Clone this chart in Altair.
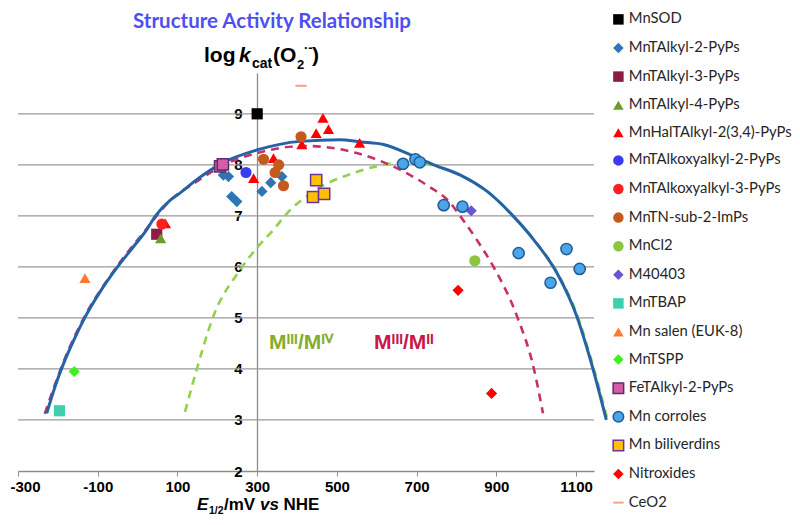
import altair as alt
import pandas as pd

# ---------------- data ----------------
series = ["MnSOD", "MnTAlkyl-2-PyPs", "MnTAlkyl-3-PyPs", "MnTAlkyl-4-PyPs",
          "MnHalTAlkyl-2(3,4)-PyPs", "MnTAlkoxyalkyl-2-PyPs", "MnTAlkoxyalkyl-3-PyPs",
          "MnTN-sub-2-ImPs", "MnCl2", "M40403", "MnTBAP", "Mn salen (EUK-8)", "MnTSPP",
          "FeTAlkyl-2-PyPs", "Mn corroles", "Mn biliverdins", "Nitroxides", "CeO2"]

mnsod_x, mnsod_y = [300], [9.0]
alkyl2_x = [215, 228, 236, 249, 312, 334, 362]
alkyl2_y = [7.80, 7.77, 7.38, 7.28, 7.48, 7.65, 7.77]
alkyl3_x, alkyl3_y = [48], [6.64]
alkyl4_x, alkyl4_y = [58], [6.56]
hal_x = [70, 291, 341, 412, 448, 465, 479, 557]
hal_y = [6.85, 7.74, 8.13, 8.40, 8.62, 8.92, 8.70, 8.43]
alkoxy2_x, alkoxy2_y = [272], [7.85]
alkoxy3_x, alkoxy3_y = [61], [6.84]
imps_x = [316, 345, 354, 366, 410]
imps_y = [8.11, 7.85, 8.00, 7.59, 8.55]
mncl2_x, mncl2_y = [846], [6.12]
m40403_x, m40403_y = [837], [7.10]
tbap_x, tbap_y = [-196], [3.18]
salen_x, salen_y = [-132], [5.78]
tspp_x, tspp_y = [-159], [3.95]
fe_x, fe_y = [207, 214], [7.97, 8.01]
corrole_x = [666, 697, 708, 768, 815, 956, 1036, 1076, 1109]
corrole_y = [8.02, 8.11, 8.05, 7.21, 7.18, 6.27, 5.69, 6.35, 5.96]
bili_x = [440, 448, 468]
bili_y = [7.37, 7.70, 7.43]
nitrox_x = [804, 888]
nitrox_y = [5.54, 3.52]
ceo2_x, ceo2_y = [410], [9.55]

# fitted curves
fit_all_x = [-228, -205, -178, -155, -132, -95, -56, -15, 23, 44, 82, 107, 150, 211,
             299, 408, 508, 559, 617, 684, 743, 810, 877, 943, 994, 1052, 1102, 1136, 1176]
fit_all_y = [3.13, 3.70, 4.25, 4.65, 5.01, 5.50, 5.94, 6.35, 6.73, 6.99, 7.31, 7.45, 7.72, 8.03,
             8.29, 8.46, 8.49, 8.45, 8.40, 8.20, 8.00, 7.80, 7.48, 6.99, 6.53, 5.88, 5.03, 4.18, 3.00]
fit_m3m2_x = [-233, -207, -180, -134, -58, 21, 80, 150, 211, 299, 420, 550, 659, 730,
              785, 810, 851, 893, 952, 994, 1017]
fit_m3m2_y = [3.12, 3.70, 4.25, 5.01, 5.94, 6.73, 7.29, 7.68, 7.98, 8.23, 8.37, 8.23, 7.90, 7.58,
              7.25, 6.99, 6.53, 6.00, 5.03, 4.01, 3.13]
fit_m3m4_x = [119, 148, 190, 257, 299, 341, 375, 441, 542, 642, 690, 746, 813, 880,
              946, 997, 1055, 1105, 1139, 1179]
fit_m3m4_y = [3.16, 3.98, 5.03, 5.94, 6.37, 6.73, 7.05, 7.48, 7.84, 8.03, 8.05, 7.98, 7.78, 7.46,
              6.97, 6.51, 5.86, 5.01, 4.16, 3.00]

grid_y = [3, 4, 5, 6, 7, 8, 9]
x_ticks = [-300, -100, 100, 300, 500, 700, 900, 1100]
y_ticks = [2, 3, 4, 5, 6, 7, 8, 9]

# ---------------- styling ----------------
fills = ["#000000", "#2e75b6", "#8e1b45", "#6c9b2a", "#ff0000", "#3b3bf2", "#ff1f1f",
         "#c55a1e", "#8cc63f", "#6a55d8", "#3fcfae", "#ff7a2f", "#3ef01e", "#d45ea6",
         "#4aa6e8", "#ffc000", "#ff0000", "#f4a07e"]
strokes = ["transparent"] * 13 + ["#5b2d6e", "#1f5c99", "#7030a0", "transparent", "transparent"]
dash = "M-1,-0.18L1,-0.18L1,0.18L-1,0.18Z"
shapes = ["square", "diamond", "square", "triangle-up", "triangle-up", "circle", "circle",
          "circle", "circle", "diamond", "square", "triangle-up", "diamond", "square",
          "circle", "square", "diamond", dash]

groups = [(mnsod_x, mnsod_y), (alkyl2_x, alkyl2_y), (alkyl3_x, alkyl3_y), (alkyl4_x, alkyl4_y),
          (hal_x, hal_y), (alkoxy2_x, alkoxy2_y), (alkoxy3_x, alkoxy3_y), (imps_x, imps_y),
          (mncl2_x, mncl2_y), (m40403_x, m40403_y), (tbap_x, tbap_y), (salen_x, salen_y),
          (tspp_x, tspp_y), (fe_x, fe_y), (corrole_x, corrole_y), (bili_x, bili_y),
          (nitrox_x, nitrox_y), (ceo2_x, ceo2_y)]
rows = []
for name, (xs, ys) in zip(series, groups):
    for xv, yv in zip(xs, ys):
        rows.append({"series": name, "x": xv, "y": yv})
pts = pd.DataFrame(rows)

BOLD = "Liberation Sans, Arial, sans-serif"
LEG = "Lato, Open Sans, sans-serif"

xscale = alt.Scale(domain=[-300, 1145], nice=False, zero=False)
yscale = alt.Scale(domain=[2, 9.8], nice=False, zero=False)

xaxis = alt.Axis(values=x_ticks, labelExpr="'' + datum.value", title=None, grid=False,
                 labelFont=BOLD, labelFontSize=15, labelFontWeight="bold", labelColor="#000000",
                 domainColor="#8c8c8c", domainWidth=1.3, tickColor="#8c8c8c", tickSize=5,
                 labelPadding=3, labelFlush=False,
                 labelOffset={"condition": {"test": "datum.value == -300", "value": 7},
                              "value": 0})
yaxis = alt.Axis(values=y_ticks, labelExpr="'' + datum.value", title=None, grid=False,
                 labelFont=BOLD, labelFontSize=15, labelFontWeight="bold", labelColor="#000000",
                 domainColor="#8c8c8c", domainWidth=1.3, ticks=False, labelPadding=15,
                 offset=-239)


def X(f="x"):
    return alt.X(f + ":Q", scale=xscale, axis=xaxis)


def Y(f="y"):
    return alt.Y(f + ":Q", scale=yscale, axis=yaxis)


grid_df = pd.DataFrame({"y": grid_y, "x": [-300] * len(grid_y), "x2": [1145] * len(grid_y)})
grid = alt.Chart(grid_df).mark_rule(color="#9a9a9a", strokeWidth=1.3).encode(
    x=X(), x2="x2:Q", y=Y())


def curve(xs, ys, color, width, dashpat=None):
    df = pd.DataFrame({"x": xs, "y": ys})
    kw = dict(color=color, strokeWidth=width, interpolate="monotone", clip=False)
    if dashpat:
        kw["strokeDash"] = dashpat
    return alt.Chart(df).mark_line(**kw).encode(x=X(), y=Y())


c_green = curve(fit_m3m4_x, fit_m3m4_y, "#92d050", 2.6, [8, 6])
c_pink = curve(fit_m3m2_x, fit_m3m2_y, "#c8306a", 2.6, [8, 6])
c_blue = curve(fit_all_x, fit_all_y, "#2463a6", 3)

legend = alt.Legend(title=None, orient="none", legendX=593, legendY=-61, padding=0,
                    labelFont=LEG, labelFontSize=14.8, labelColor="#262626", symbolSize=110,
                    symbolStrokeWidth=1.5, rowPadding=11.6, labelOffset=3, labelLimit=300)

points = alt.Chart(pts).mark_point(filled=True, size=125, strokeWidth=1.5, opacity=1).encode(
    x=X(), y=Y(),
    fill=alt.Fill("series:N", scale=alt.Scale(domain=series, range=fills), legend=legend),
    stroke=alt.Stroke("series:N", scale=alt.Scale(domain=series, range=strokes), legend=legend),
    shape=alt.Shape("series:N", scale=alt.Scale(domain=series, range=shapes), legend=legend),
)


def label(txt, px, py, size, color="#000000", weight="bold", style="normal", font=BOLD,
          align="left"):
    return alt.Chart(pd.DataFrame({"a": [0]})).mark_text(
        text=txt, font=font, fontSize=size, fontWeight=weight, fontStyle=style, color=color,
        align=align, baseline="alphabetic").encode(x=alt.value(px), y=alt.value(py))


texts = [
    label("Structure Activity Relationship", 254, -45, 20.5, color="#4f4ff0", font=LEG,
          align="center"),
    label("log", 186, -11, 21),
    label("k", 221, -11, 21, style="italic"),
    label("cat", 234, -5, 14),
    label("(O", 255, -11, 21),
    label("2", 279, -4, 13),
    label("·-", 286, -21, 13),
    label(")", 294, -11, 21),
    label("E", 179, 437, 17, style="italic"),
    label("1/2", 191, 441, 10.5),
    label("/mV", 206, 437, 17),
    label("vs", 242, 437, 17, style="italic"),
    label("NHE", 265.5, 437, 17),
    label("Mᴵᴵᴵ/Mᴵⱽ", 283, 276, 21, color="#84ad2e", font="Liberation Sans", align="center"),
    label("Mᴵᴵᴵ/Mᴵᴵ", 386, 276, 21, color="#c8174a", font="Liberation Sans", align="center"),
]

chart = alt.layer(grid, c_green, c_pink, c_blue, points, *texts).properties(
    width=576, height=398,
    autosize=alt.AutoSizeParams(type="none"),
    padding={"left": 10, "top": 65, "right": 198, "bottom": 45},
).configure_view(stroke=None)

chart.save("out.html", embed_options={"renderer": "svg", "actions": False})
